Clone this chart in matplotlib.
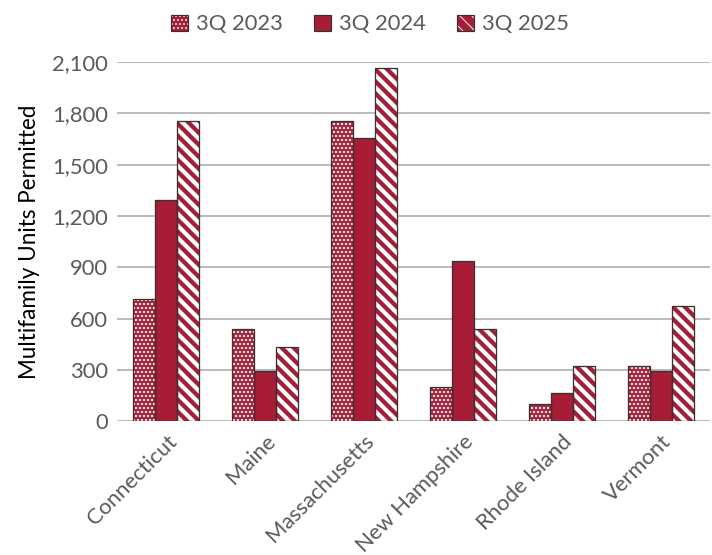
import numpy as np
import matplotlib.pyplot as plt
from matplotlib.patches import Patch
from matplotlib.ticker import FuncFormatter

states = ["Connecticut", "Maine", "Massachusetts", "New Hampshire", "Rhode Island", "Vermont"]
series = ["3Q 2023", "3Q 2024", "3Q 2025"]
q3_2023 = [713, 538, 1754, 200, 99, 321]
q3_2024 = [1292, 292, 1657, 936, 168, 294]
q3_2025 = [1754, 433, 2063, 538, 323, 672]

RED = "#A81C36"
EDGE = "#333333"
GRID = "#A6A6A6"
TXT = "#5A5A5A"

plt.rcParams['font.family'] = ['Lato', 'DejaVu Sans']

# 72 dpi so that 1 pt == 1 px (hatch spacing follows the dpi)
DPI = 72
fig = plt.figure(figsize=(712 / DPI, 555 / DPI), dpi=DPI)
ax = fig.add_axes([0.1643, 0.241, 0.833, 0.647])

x = np.arange(len(states))
w = 0.223
hatches = ['...', None, '\\\\']
hatch_lw = [1.6, 1.0, 4.2]
handles = []
for i, (vals, h) in enumerate(zip([q3_2023, q3_2024, q3_2025], hatches)):
    pos = x + (i - 1) * w
    bars = ax.bar(pos, vals, w, color=RED, edgecolor='white', linewidth=0,
                  hatch=h, zorder=2)
    for b in bars:
        b.set_hatch_linewidth(hatch_lw[i])
    ax.bar(pos, vals, w, facecolor='none', edgecolor=EDGE, linewidth=1.3, zorder=3)
    hp = Patch(facecolor=RED, edgecolor='white', hatch=h, linewidth=0)
    hp.set_hatch_linewidth(hatch_lw[i])
    outline = Patch(facecolor='none', edgecolor=EDGE, linewidth=1.2)
    handles.append((hp, outline))

ax.set_xlim(-0.5, 5.5)
ax.set_ylim(0, 2100)
ax.set_yticks(np.arange(0, 2101, 300))
ax.yaxis.set_major_formatter(FuncFormatter(lambda v, p: f"{int(v):,}"))
ax.grid(axis='y', color=GRID, linewidth=1.5, zorder=0)
ax.set_axisbelow(True)
for s in ['top', 'right', 'left', 'bottom']:
    ax.spines[s].set_visible(False)
ax.tick_params(axis='y', length=0, labelsize=22, labelcolor=TXT, pad=9)
ax.tick_params(axis='x', length=0, labelsize=22, labelcolor=TXT, pad=10)
ax.set_xticks(x)
ax.set_xticklabels(states, rotation=45, ha='right', rotation_mode='anchor')
ax.set_ylabel("Multifamily Units Permitted", fontsize=22.5, color='black', labelpad=12)

leg = fig.legend(handles, series, loc='upper center', bbox_to_anchor=(0.52, 1.01),
                 ncol=3, frameon=False, fontsize=22, handlelength=0.75,
                 handleheight=0.75, handletextpad=0.4, columnspacing=1.4)
for t in leg.get_texts():
    t.set_color(TXT)

fig.savefig("out.png", dpi=DPI)
